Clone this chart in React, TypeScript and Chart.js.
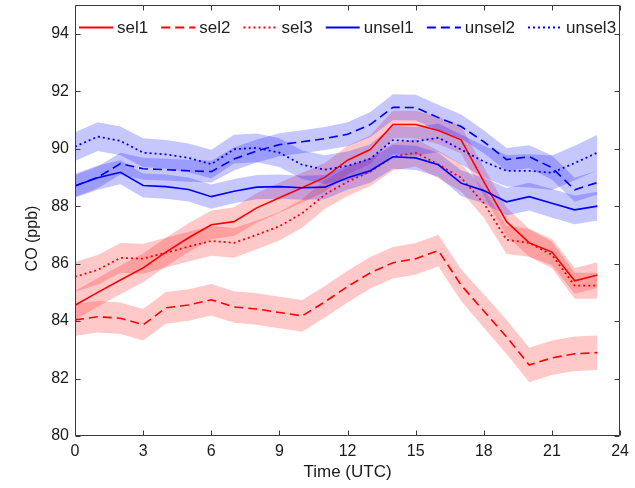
import React, { useEffect, useRef } from "react";
import { Chart, registerables } from "chart.js";

Chart.register(...registerables);

const hours = [0, 1, 2, 3, 4, 5, 6, 7, 8, 9, 10, 11, 12, 13, 14, 15, 16, 17, 18, 19, 20, 21, 22, 23];

const sel1 = [84.55, 85.0, 85.43, 85.85, 86.4, 86.9, 87.35, 87.46, 87.94, 88.29, 88.64, 89.0, 89.6, 89.97, 90.84, 90.84, 90.63, 90.31, 88.85, 87.46, 86.72, 86.4, 85.4, 85.6];
const sel2 = [84.04, 84.15, 84.1, 83.87, 84.46, 84.56, 84.74, 84.49, 84.42, 84.3, 84.18, 84.67, 85.2, 85.68, 86.03, 86.17, 86.45, 85.25, 84.35, 83.45, 82.47, 82.72, 82.86, 82.9];
const sel3 = [85.54, 85.78, 86.2, 86.17, 86.38, 86.59, 86.79, 86.72, 87.0, 87.3, 87.75, 88.4, 88.85, 89.2, 89.72, 89.86, 89.45, 88.99, 88.1, 86.83, 86.72, 86.3, 85.23, 85.23];
const unsel1 = [88.71, 88.99, 89.18, 88.72, 88.68, 88.58, 88.33, 88.52, 88.66, 88.68, 88.64, 88.66, 88.99, 89.23, 89.72, 89.68, 89.44, 88.8, 88.54, 88.15, 88.33, 88.1, 87.87, 88.0];
const unsel2 = [88.7, 89.0, 89.48, 89.3, 89.27, 89.23, 89.2, 89.64, 89.92, 90.14, 90.24, 90.35, 90.5, 90.84, 91.44, 91.43, 91.08, 90.77, 90.24, 89.62, 89.72, 89.34, 88.57, 88.82];
const unsel3 = [90.07, 90.42, 90.27, 89.86, 89.8, 89.68, 89.46, 89.98, 90.03, 89.86, 89.44, 89.27, 89.4, 89.65, 90.3, 90.25, 90.38, 89.97, 89.55, 89.23, 89.23, 89.16, 89.5, 89.86];

const sel1Err = [0.5, 0.5, 0.5, 0.5, 0.5, 0.5, 0.5, 0.5, 0.52, 0.52, 0.52, 0.5, 0.5, 0.5, 0.48, 0.48, 0.48, 0.48, 0.5, 0.5, 0.48, 0.46, 0.45, 0.45];
const sel2Err = [0.55, 0.55, 0.55, 0.55, 0.55, 0.55, 0.55, 0.55, 0.55, 0.55, 0.55, 0.55, 0.55, 0.55, 0.55, 0.55, 0.55, 0.55, 0.58, 0.6, 0.6, 0.6, 0.6, 0.6];
const sel3Err = [0.52, 0.52, 0.52, 0.52, 0.52, 0.52, 0.52, 0.52, 0.5, 0.5, 0.5, 0.5, 0.5, 0.5, 0.48, 0.48, 0.48, 0.48, 0.5, 0.5, 0.48, 0.46, 0.45, 0.45];
const unsel1Err = [0.42, 0.42, 0.42, 0.42, 0.42, 0.42, 0.42, 0.42, 0.42, 0.42, 0.42, 0.42, 0.42, 0.42, 0.42, 0.42, 0.42, 0.45, 0.45, 0.48, 0.48, 0.5, 0.5, 0.5];
const unsel2Err = [0.38, 0.38, 0.38, 0.38, 0.38, 0.38, 0.38, 0.4, 0.4, 0.4, 0.4, 0.4, 0.42, 0.44, 0.45, 0.45, 0.45, 0.42, 0.4, 0.4, 0.4, 0.42, 0.42, 0.42];
const unsel3Err = [0.5, 0.5, 0.5, 0.5, 0.5, 0.5, 0.5, 0.5, 0.5, 0.5, 0.5, 0.5, 0.5, 0.5, 0.5, 0.5, 0.5, 0.52, 0.55, 0.55, 0.58, 0.6, 0.6, 0.62];

const xTicks = [0, 3, 6, 9, 12, 15, 18, 21, 24];
const yTicks = [80, 82, 84, 86, 88, 90, 92, 94];
const labels = ["sel1", "sel2", "sel3", "unsel1", "unsel2", "unsel3"];
const xTitle = "Time (UTC)";
const yTitle = "CO (ppb)";

const RED = "#ff0000";
const BLUE = "#0000ff";
const RED_FILL = "rgba(255,0,0,0.21)";
const BLUE_FILL = "rgba(0,0,255,0.22)";
const SOLID: number[] = [];
const DASH = [9, 5];
const DOT = [2, 3];
const FONT = "'Liberation Sans', Arial, Helvetica, sans-serif";

const seriesList = [
  { label: labels[0], values: sel1, err: sel1Err, color: RED, fill: RED_FILL, dash: SOLID },
  { label: labels[1], values: sel2, err: sel2Err, color: RED, fill: RED_FILL, dash: DASH },
  { label: labels[2], values: sel3, err: sel3Err, color: RED, fill: RED_FILL, dash: DOT },
  { label: labels[3], values: unsel1, err: unsel1Err, color: BLUE, fill: BLUE_FILL, dash: SOLID },
  { label: labels[4], values: unsel2, err: unsel2Err, color: BLUE, fill: BLUE_FILL, dash: DASH },
  { label: labels[5], values: unsel3, err: unsel3Err, color: BLUE, fill: BLUE_FILL, dash: DOT },
];

function buildDatasets() {
  const ds: any[] = [];
  seriesList.forEach((s, k) => {
    ds.push({
      label: s.label + "_hi",
      data: hours.map((h, i) => ({ x: h, y: s.values[i] + s.err[i] })),
      borderWidth: 0,
      pointRadius: 0,
      fill: false,
      order: 30 - k,
    });
    ds.push({
      label: s.label + "_lo",
      data: hours.map((h, i) => ({ x: h, y: s.values[i] - s.err[i] })),
      borderWidth: 0,
      pointRadius: 0,
      fill: "-1",
      backgroundColor: s.fill,
      order: 30 - k,
    });
  });
  seriesList.forEach((s, k) => {
    ds.push({
      label: s.label,
      data: hours.map((h, i) => ({ x: h, y: s.values[i] })),
      borderColor: s.color,
      borderWidth: s.dash === DOT ? 1.8 : 1.6,
      borderDash: s.dash,
      pointRadius: 0,
      fill: false,
      tension: 0,
      order: 10 - k,
    });
  });
  return ds;
}

const framePlugin = {
  id: "frameAndLegend",
  afterDraw(chart: any) {
    const { ctx, chartArea, scales } = chart;
    const L = Math.round(chartArea.left) + 0.5;
    const R = Math.round(chartArea.right) - 0.5;
    const T = Math.round(chartArea.top) + 0.5;
    const B = Math.round(chartArea.bottom) - 0.5;
    ctx.save();
    ctx.strokeStyle = "#3a3a3a";
    ctx.lineWidth = 1;
    ctx.setLineDash([]);
    ctx.beginPath();
    ctx.moveTo(L, T);
    ctx.lineTo(R, T);
    ctx.lineTo(R, B);
    ctx.lineTo(L, B);
    ctx.closePath();
    ctx.stroke();
    const tl = 5;
    ctx.beginPath();
    xTicks.forEach((v) => {
      const px = Math.round(scales.x.getPixelForValue(v)) + 0.5;
      ctx.moveTo(px, B);
      ctx.lineTo(px, B - tl);
      ctx.moveTo(px, T);
      ctx.lineTo(px, T + tl);
    });
    yTicks.forEach((v) => {
      const py = Math.round(scales.y.getPixelForValue(v)) + 0.5;
      ctx.moveTo(L, py);
      ctx.lineTo(L + tl, py);
      ctx.moveTo(R, py);
      ctx.lineTo(R - tl, py);
    });
    ctx.stroke();

    // y-axis title
    ctx.save();
    ctx.font = "16px " + FONT;
    ctx.fillStyle = "#1a1a1a";
    ctx.textAlign = "center";
    ctx.textBaseline = "middle";
    ctx.translate(33, (chartArea.top + chartArea.bottom) / 2 + 18);
    ctx.rotate(-Math.PI / 2);
    ctx.fillText(yTitle, 0, 0);
    ctx.restore();

    // legend
    ctx.font = "17px " + FONT;
    ctx.textBaseline = "middle";
    ctx.textAlign = "left";
    const lineLen = 34;
    const textGap = 4;
    const widths = seriesList.map((s) => ctx.measureText(s.label).width);
    const startX = chartArea.left + 4;
    const endX = chartArea.right - 4;
    const total = seriesList.length * (lineLen + textGap) + widths.reduce((a, b) => a + b, 0);
    const gap = (endX - startX - total) / (seriesList.length - 1);
    const y = chartArea.top + 22;
    let x = startX;
    seriesList.forEach((s, k) => {
      ctx.strokeStyle = s.color;
      ctx.lineWidth = 1.8;
      ctx.setLineDash(s.dash);
      ctx.beginPath();
      ctx.moveTo(x, y + 0.5);
      ctx.lineTo(x + lineLen, y + 0.5);
      ctx.stroke();
      x += lineLen + textGap;
      ctx.setLineDash([]);
      ctx.fillStyle = "#222";
      ctx.fillText(s.label, x, y + 1);
      x += widths[k] + gap;
    });
    ctx.restore();
  },
};

export default function App() {
  const ref = useRef<HTMLCanvasElement>(null);
  useEffect(() => {
    if (!ref.current) return;
    Chart.defaults.font.family = FONT;
    const chart = new Chart(ref.current, {
      type: "line",
      data: { datasets: buildDatasets() },
      options: {
        animation: false,
        responsive: false,
        devicePixelRatio: 1,
        events: [],
        layout: { padding: { top: 5, right: 13, bottom: 0, left: 0 } },
        plugins: {
          legend: { display: false },
          tooltip: { enabled: false },
          filler: { propagate: false },
        },
        scales: {
          x: {
            type: "linear",
            min: 0,
            max: 24,
            afterBuildTicks: (s: any) => {
              s.ticks = xTicks.map((v) => ({ value: v }));
            },
            afterFit: (s: any) => {
              s.height = 52;
            },
            ticks: {
              padding: 6,
              maxRotation: 0,
              autoSkip: false,
              color: "#1a1a1a",
              font: { size: 16, family: FONT },
            },
            grid: { display: false, drawTicks: false },
            border: { display: false },
            title: {
              display: true,
              text: xTitle,
              color: "#1a1a1a",
              font: { size: 17, family: FONT },
              padding: { top: 0, bottom: 5 },
            },
          },
          y: {
            type: "linear",
            min: 80,
            max: 95,
            afterBuildTicks: (s: any) => {
              s.ticks = yTicks.map((v) => ({ value: v }));
            },
            afterFit: (s: any) => {
              s.width = 75;
              s.paddingTop = 0;
              s.paddingBottom = 0;
            },
            ticks: {
              padding: 6,
              autoSkip: false,
              color: "#1a1a1a",
              font: { size: 16, family: FONT },
            },
            grid: { display: false, drawTicks: false },
            border: { display: false },
            title: { display: false },
          },
        },
      },
      plugins: [framePlugin],
    } as any);
    return () => chart.destroy();
  }, []);
  return (
    <div style={{ position: "fixed", left: 0, top: 0, width: 635, height: 488, background: "#fff" }}>
      <canvas ref={ref} width={635} height={488} style={{ display: "block", width: 635, height: 488 }} />
    </div>
  );
}
